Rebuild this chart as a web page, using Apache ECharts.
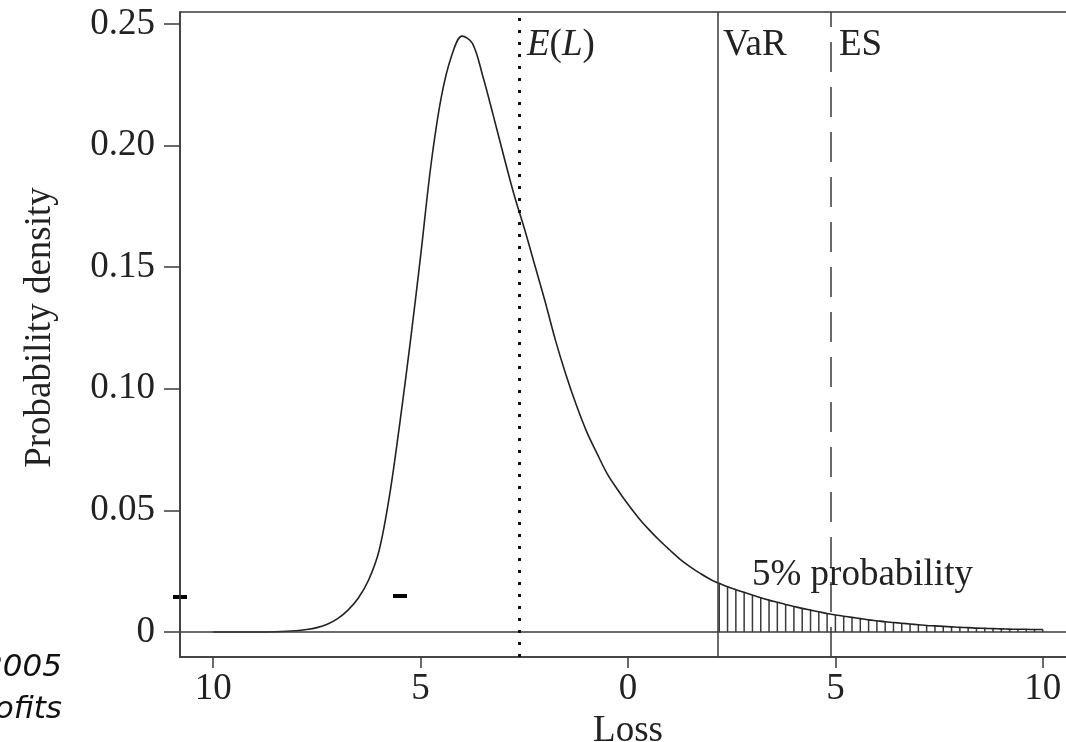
<!DOCTYPE html>
<html>
<head>
<meta charset="utf-8">
<script src="https://cdn.jsdelivr.net/npm/echarts@6/dist/echarts.min.js"></script>
<style>html,body{margin:0;padding:0;background:#fff}#c{width:1066px;height:742px}</style>
</head>
<body>
<div id="c"></div>
<script>
// Loss values and density
var curveX = [-10,-9.5,-9,-8.5,-8,-7.75,-7.5,-7.25,-7,-6.75,-6.5,-6.25,-6,-5.75,-5.5,-5.25,-5,-4.75,-4.5,-4.25,-4,-3.75,-3.5,-3.25,-3,-2.75,-2.5,-2.25,-2,-1.75,-1.5,-1.25,-1,-0.75,-0.5,-0.25,0,0.25,0.5,0.75,1,1.25,1.5,1.75,2];
var curveY = [0,0,0,0.0001,0.0005,0.0010,0.0018,0.0032,0.0055,0.0090,0.0140,0.0215,0.0335,0.0560,0.0860,0.1190,0.1545,0.1920,0.2200,0.2370,0.2450,0.2420,0.2285,0.2125,0.1960,0.1800,0.1660,0.1510,0.1360,0.1200,0.1060,0.0935,0.0825,0.0735,0.0650,0.0585,0.0525,0.0470,0.0422,0.0378,0.0338,0.0300,0.0268,0.0240,0.0215];
// tail beyond VaR (hatched 5% region)
var tailX = [2.2,2.4,2.6,2.8,3.0,3.2,3.4,3.6,3.8,4.0,4.2,4.4,4.6,4.8,5.0,5.2,5.4,5.6,5.8,6.0,6.2,6.4,6.6,6.8,7.0,7.2,7.4,7.6,7.8,8.0,8.2,8.4,8.6,8.8,9.0,9.2,9.4,9.6,9.8,10.0];
var tailY = [0.0200,0.0186,0.0174,0.0163,0.0152,0.0141,0.0131,0.0122,0.0113,0.0105,0.0097,0.0090,0.0083,0.0076,0.0070,0.0065,0.0060,0.0055,0.0050,0.0046,0.0042,0.0039,0.0036,0.0033,0.0030,0.0027,0.0025,0.0023,0.0021,0.0019,0.0018,0.0016,0.0015,0.0014,0.0013,0.0012,0.0011,0.0011,0.0010,0.0010];
var expectedLoss = -2.63;
var valueAtRisk = 2.17;
var expectedShortfall = 4.89;
var xTicks = [-10,-5,0,5,10];
var xTickLabels = ['10','5','0','5','10'];
var yTicks = [0,0.05,0.10,0.15,0.20,0.25];
var yTickLabels = ['0','0.05','0.10','0.15','0.20','0.25'];

var serif = '"Liberation Serif", "DejaVu Serif", serif';
var ink = '#222';
var lineCol = '#3a3a3a';
var fs = 37;

var curveData = [];
for (var i = 0; i < curveX.length; i++) curveData.push([curveX[i], curveY[i]]);
var tailData = [];
for (var j = 0; j < tailX.length; j++) { tailData.push([tailX[j], tailY[j]]); curveData.push([tailX[j], tailY[j]]); }

var chart = echarts.init(document.getElementById('c'), null, {renderer: 'canvas'});
chart.setOption({
  animation: false,
  backgroundColor: '#fff',
  grid: {left: 180, right: -10, top: 12, bottom: 85, show: true, borderColor: lineCol, borderWidth: 1.5,
    backgroundColor: 'transparent', containLabel: false, outerBoundsMode: 'none'},
  xAxis: {
    type: 'value', min: -10.8, max: 10.8,
    name: 'Loss', nameLocation: 'middle', nameGap: 52,
    nameTextStyle: {fontFamily: serif, fontSize: fs, color: ink},
    axisLine: {show: true, onZero: false, lineStyle: {color: lineCol, width: 1.5}},
    axisTick: {show: true, length: 11, customValues: xTicks, lineStyle: {color: lineCol, width: 1.5}},
    axisLabel: {customValues: xTicks, margin: 14, fontFamily: serif, fontSize: fs, color: ink,
      formatter: function (v) { var k = xTicks.indexOf(v); return k >= 0 ? xTickLabels[k] : ''; }},
    splitLine: {show: false}
  },
  yAxis: {
    type: 'value', min: -0.01028, max: 0.2549,
    name: 'Probability density', nameLocation: 'middle', nameGap: 121,
    nameTextStyle: {fontFamily: serif, fontSize: fs, color: ink, padding: [0, 0, 0, 14]},
    axisLine: {show: true, onZero: false, lineStyle: {color: lineCol, width: 1.5}},
    axisTick: {show: true, length: 16, customValues: yTicks, lineStyle: {color: lineCol, width: 1.5}},
    axisLabel: {customValues: yTicks, margin: 25, fontFamily: serif, fontSize: fs, color: ink,
      formatter: function (v) { for (var k = 0; k < yTicks.length; k++) if (Math.abs(yTicks[k] - v) < 1e-9) return yTickLabels[k]; return ''; }},
    splitLine: {show: false}
  },
  series: [
    {
      type: 'bar', data: tailData, barWidth: 1.5, silent: true,
      itemStyle: {color: '#3a3a3a'}, z: 2
    },
    {
      type: 'line', data: curveData, showSymbol: false, smooth: 0.35, silent: true,
      lineStyle: {color: '#222', width: 1.6}, z: 3,
      markLine: {
        silent: true, symbol: 'none', label: {show: false},
        data: [
          {yAxis: 0, lineStyle: {color: lineCol, width: 1.5, type: 'solid'}},
          {xAxis: expectedLoss, lineStyle: {color: '#111', width: 3, type: [3, 9], cap: 'butt'}},
          {xAxis: valueAtRisk, lineStyle: {color: lineCol, width: 1.5, type: 'solid'}},
          {xAxis: expectedShortfall, lineStyle: {color: lineCol, width: 1.5, type: [30, 15]}}
        ]
      }
    }
  ],
  graphic: [
    {type: 'text', left: 527, top: 27, style: {
      text: '{i|E}({i|L})', font: fs + 'px ' + serif, fill: ink,
      rich: {i: {fontFamily: serif, fontStyle: 'italic', fontSize: fs, fill: ink}}}},
    {type: 'text', left: 723, top: 27, style: {text: 'VaR', font: fs + 'px ' + serif, fill: ink}},
    {type: 'text', left: 839, top: 27, style: {text: 'ES', font: fs + 'px ' + serif, fill: ink}},
    {type: 'text', left: 752, top: 557, style: {text: '5% probability', font: fs + 'px ' + serif, fill: ink}},
    {type: 'rect', shape: {x: 173, y: 595, width: 14, height: 4}, style: {fill: '#000'}},
    {type: 'rect', shape: {x: 393, y: 594, width: 14, height: 4}, style: {fill: '#000'}},
    {type: 'text', right: 1066 - 62, top: 652, style: {text: '2005', font: 'italic 31px "DejaVu Sans", sans-serif', fill: '#111', align: 'right'}},
    {type: 'text', right: 1066 - 62, top: 694, style: {text: 'ofits', font: 'italic 31px "DejaVu Sans", sans-serif', fill: '#111', align: 'right'}}
  ]
});
</script>
</body>
</html>
